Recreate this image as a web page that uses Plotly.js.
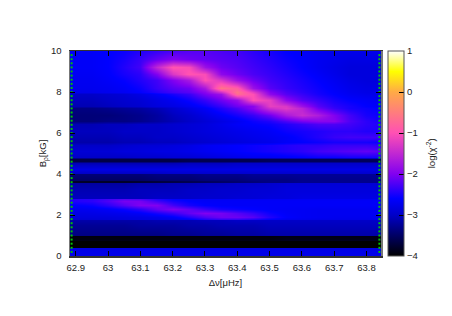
<!DOCTYPE html>
<html><head><meta charset="utf-8">
<script src="https://cdn.plot.ly/plotly-3.0.1.min.js"></script>
<style>html,body{margin:0;padding:0;background:#fff}#c{width:452px;height:316px}</style></head>
<body><div id="c"></div>
<script>
var detuning=[62.882,62.95,63,63.05,63.1,63.15,63.2,63.25,63.3,63.35,63.4,63.45,63.5,63.55,63.6,63.65,63.7,63.75,63.8,63.845];
var field=[0,0.2,0.4,0.43,0.75,0.8,1.0,1.04,1.5,1.78,1.82,1.9,2.1,2.3,2.5,2.7,2.78,2.82,3.2,3.58,3.62,3.68,3.72,4.0,4.05,4.25,4.55,4.65,4.75,4.85,5.1,5.4,5.55,5.8,6.1,6.45,6.6,6.9,7.2,7.3,7.6,7.9,8.0,8.2,8.6,8.9,9.2,9.6,10];
var chi=[
[-2.75,-2.75,-2.75,-2.75,-2.75,-2.75,-2.75,-2.75,-2.75,-2.75,-2.75,-2.75,-2.75,-2.75,-2.75,-2.75,-2.75,-2.75,-2.75,-2.75],
[-2.75,-2.75,-2.75,-2.75,-2.75,-2.75,-2.75,-2.75,-2.75,-2.75,-2.75,-2.75,-2.75,-2.75,-2.75,-2.75,-2.75,-2.75,-2.75,-2.75],
[-2.8,-2.8,-2.8,-2.8,-2.8,-2.8,-2.8,-2.8,-2.8,-2.8,-2.8,-2.8,-2.8,-2.8,-2.8,-2.8,-2.8,-2.8,-2.8,-2.8],
[-4,-4,-4,-4,-4,-4,-4,-4,-4,-4,-4,-4,-4,-4,-4,-4,-4,-4,-4,-4],
[-4,-4,-4,-4,-4,-4,-4,-4,-4,-4,-4,-4,-4,-4,-4,-4,-4,-4,-4,-4],
[-3.9,-3.9,-3.9,-3.9,-3.9,-3.9,-3.9,-3.9,-3.9,-3.9,-3.9,-3.9,-3.9,-3.85,-3.85,-3.85,-3.85,-3.85,-3.85,-3.85],
[-3.95,-3.95,-3.95,-3.95,-3.95,-3.95,-3.95,-3.95,-3.95,-3.95,-3.95,-3.95,-3.95,-3.9,-3.9,-3.9,-3.9,-3.9,-3.9,-3.9],
[-3.35,-3.35,-3.35,-3.35,-3.35,-3.35,-3.3,-3.3,-3.25,-3.25,-3.2,-3.2,-3.15,-3.15,-3.15,-3.15,-3.15,-3.15,-3.15,-3.15],
[-3.25,-3.25,-3.25,-3.25,-3.2,-3.2,-3.2,-3.15,-3.15,-3.1,-3.1,-3.1,-3.05,-3.05,-3.05,-3.05,-3.05,-3.05,-3.05,-3.05],
[-3.15,-3.15,-3.15,-3.15,-3.15,-3.1,-3.1,-3.1,-3.05,-3.05,-3.0,-3.0,-3.0,-3.0,-3.0,-3.0,-3.0,-3.0,-3.0,-3.0],
[-2.9,-2.9,-2.88,-2.85,-2.82,-2.8,-2.75,-2.65,-2.45,-2.35,-2.35,-2.45,-2.6,-2.7,-2.72,-2.75,-2.75,-2.75,-2.75,-2.75],
[-2.85,-2.85,-2.85,-2.82,-2.8,-2.75,-2.65,-2.45,-2.25,-2.1,-2.1,-2.2,-2.45,-2.62,-2.68,-2.7,-2.72,-2.72,-2.72,-2.72],
[-2.8,-2.78,-2.75,-2.72,-2.65,-2.5,-2.35,-2.15,-2.0,-2.05,-2.2,-2.35,-2.55,-2.65,-2.68,-2.7,-2.7,-2.7,-2.7,-2.7],
[-2.72,-2.7,-2.65,-2.55,-2.4,-2.15,-2.0,-2.15,-2.35,-2.5,-2.55,-2.6,-2.65,-2.67,-2.68,-2.7,-2.7,-2.7,-2.7,-2.7],
[-2.62,-2.55,-2.4,-2.2,-2.0,-2.0,-2.3,-2.5,-2.6,-2.64,-2.65,-2.65,-2.65,-2.65,-2.65,-2.65,-2.65,-2.65,-2.65,-2.65],
[-2.47,-2.4,-2.25,-2.05,-2.05,-2.3,-2.5,-2.6,-2.65,-2.65,-2.65,-2.65,-2.65,-2.65,-2.65,-2.65,-2.65,-2.65,-2.65,-2.65],
[-2.45,-2.42,-2.3,-2.2,-2.25,-2.45,-2.6,-2.65,-2.68,-2.68,-2.68,-2.68,-2.68,-2.68,-2.68,-2.68,-2.68,-2.68,-2.68,-2.68],
[-3.05,-3.05,-3.05,-3.05,-3.05,-3.0,-3.0,-3.0,-2.95,-2.95,-2.9,-2.9,-2.85,-2.85,-2.8,-2.8,-2.8,-2.8,-2.8,-2.8],
[-3.1,-3.1,-3.1,-3.1,-3.05,-3.05,-3.05,-3.0,-3.0,-2.95,-2.95,-2.9,-2.9,-2.85,-2.85,-2.85,-2.85,-2.85,-2.85,-2.85],
[-3.2,-3.2,-3.2,-3.2,-3.15,-3.15,-3.1,-3.1,-3.05,-3.05,-3.0,-3.0,-2.95,-2.9,-2.9,-2.9,-2.9,-2.9,-2.9,-2.9],
[-3.8,-3.8,-3.8,-3.8,-3.75,-3.7,-3.65,-3.6,-3.55,-3.5,-3.45,-3.4,-3.35,-3.35,-3.3,-3.3,-3.3,-3.3,-3.3,-3.3],
[-3.8,-3.8,-3.8,-3.8,-3.75,-3.7,-3.65,-3.6,-3.55,-3.5,-3.45,-3.4,-3.35,-3.35,-3.3,-3.3,-3.3,-3.3,-3.3,-3.3],
[-3.5,-3.5,-3.5,-3.5,-3.5,-3.45,-3.45,-3.45,-3.4,-3.4,-3.4,-3.35,-3.35,-3.35,-3.3,-3.3,-3.3,-3.3,-3.3,-3.3],
[-3.4,-3.4,-3.4,-3.4,-3.4,-3.35,-3.35,-3.35,-3.3,-3.3,-3.3,-3.25,-3.25,-3.25,-3.25,-3.25,-3.25,-3.25,-3.25,-3.25],
[-3.0,-3.0,-3.0,-3.0,-3.0,-3.0,-2.95,-2.95,-2.95,-2.95,-2.95,-2.95,-2.95,-2.95,-2.95,-2.95,-2.95,-2.95,-2.95,-2.95],
[-2.8,-2.8,-2.8,-2.8,-2.8,-2.8,-2.8,-2.8,-2.8,-2.8,-2.8,-2.8,-2.8,-2.8,-2.8,-2.8,-2.8,-2.8,-2.8,-2.8],
[-3.1,-3.1,-3.1,-3.1,-3.1,-3.1,-3.1,-3.05,-3.05,-3.05,-3.0,-3.0,-3.0,-3.0,-3.0,-3.0,-3.0,-3.0,-3.0,-3.0],
[-3.65,-3.65,-3.65,-3.65,-3.65,-3.65,-3.65,-3.6,-3.6,-3.6,-3.6,-3.6,-3.55,-3.55,-3.55,-3.55,-3.55,-3.55,-3.55,-3.55],
[-3.65,-3.65,-3.65,-3.65,-3.65,-3.65,-3.65,-3.6,-3.6,-3.6,-3.6,-3.6,-3.55,-3.55,-3.55,-3.55,-3.55,-3.55,-3.55,-3.55],
[-3.0,-3.0,-3.0,-3.0,-2.95,-2.95,-2.9,-2.9,-2.85,-2.8,-2.75,-2.7,-2.7,-2.65,-2.6,-2.55,-2.55,-2.5,-2.5,-2.5],
[-2.9,-2.9,-2.9,-2.85,-2.85,-2.8,-2.8,-2.75,-2.7,-2.65,-2.6,-2.55,-2.5,-2.45,-2.4,-2.3,-2.25,-2.2,-2.15,-2.2],
[-3.0,-3.0,-3.0,-2.95,-2.9,-2.9,-2.85,-2.8,-2.7,-2.65,-2.6,-2.55,-2.5,-2.45,-2.4,-2.4,-2.35,-2.35,-2.35,-2.4],
[-3.15,-3.15,-3.15,-3.1,-3.1,-3.05,-3.05,-3.0,-2.95,-2.9,-2.85,-2.8,-2.75,-2.65,-2.6,-2.55,-2.5,-2.5,-2.5,-2.55],
[-3.1,-3.1,-3.1,-3.05,-3.05,-3.0,-3.0,-2.95,-2.9,-2.85,-2.8,-2.75,-2.7,-2.65,-2.55,-2.45,-2.35,-2.3,-2.3,-2.3],
[-3.05,-3.05,-3.05,-3.0,-3.0,-3.0,-2.95,-2.9,-2.85,-2.8,-2.75,-2.7,-2.65,-2.55,-2.5,-2.45,-2.4,-2.4,-2.45,-2.45],
[-3.1,-3.1,-3.05,-3.05,-3.0,-3.0,-2.95,-2.9,-2.85,-2.75,-2.65,-2.6,-2.55,-2.45,-2.35,-2.25,-2.25,-2.3,-2.4,-2.45],
[-3.4,-3.4,-3.35,-3.35,-3.3,-3.2,-3.1,-3.0,-2.9,-2.8,-2.7,-2.55,-2.45,-2.25,-2.05,-1.95,-1.95,-2.25,-2.4,-2.5],
[-3.4,-3.4,-3.4,-3.35,-3.3,-3.2,-3.05,-2.95,-2.8,-2.65,-2.5,-2.35,-2.1,-1.7,-1.45,-1.65,-2.0,-2.3,-2.5,-2.55],
[-3.35,-3.35,-3.3,-3.25,-3.2,-3.1,-2.95,-2.8,-2.65,-2.45,-2.25,-1.95,-1.4,-1.25,-1.55,-2.1,-2.35,-2.5,-2.55,-2.6],
[-3.1,-3.1,-3.05,-3.0,-2.95,-2.85,-2.8,-2.7,-2.55,-2.35,-2.1,-1.95,-1.2,-1.3,-1.8,-2.2,-2.4,-2.5,-2.6,-2.65],
[-3.05,-3.05,-3.0,-2.95,-2.9,-2.8,-2.7,-2.55,-2.35,-2.1,-1.85,-1.0,-1.2,-1.9,-2.2,-2.35,-2.5,-2.6,-2.65,-2.7],
[-3.0,-3.0,-2.95,-2.9,-2.8,-2.65,-2.5,-2.35,-2.05,-1.8,-0.7,-1.0,-1.9,-2.2,-2.35,-2.5,-2.6,-2.7,-2.75,-2.75],
[-2.75,-2.75,-2.72,-2.68,-2.6,-2.45,-2.3,-2.2,-1.95,-1.4,-0.6,-1.2,-2.0,-2.25,-2.4,-2.52,-2.62,-2.72,-2.78,-2.78],
[-2.72,-2.72,-2.7,-2.65,-2.55,-2.35,-2.2,-2.1,-1.7,-0.6,-0.85,-1.8,-2.2,-2.35,-2.45,-2.55,-2.65,-2.75,-2.8,-2.8],
[-2.7,-2.7,-2.65,-2.58,-2.45,-2.3,-2.0,-1.7,-1.0,-1.3,-1.8,-2.1,-2.3,-2.4,-2.5,-2.6,-2.7,-2.8,-2.85,-2.85],
[-2.68,-2.68,-2.62,-2.5,-2.4,-2.0,-1.3,-0.95,-1.05,-1.9,-2.1,-2.25,-2.35,-2.45,-2.55,-2.65,-2.75,-2.85,-2.85,-2.85],
[-2.65,-2.65,-2.6,-2.45,-2.3,-1.5,-0.95,-1.05,-1.8,-2.1,-2.2,-2.3,-2.4,-2.5,-2.6,-2.7,-2.78,-2.85,-2.85,-2.85],
[-2.65,-2.65,-2.6,-2.5,-2.35,-2.15,-2.0,-2.1,-2.15,-2.2,-2.25,-2.35,-2.45,-2.55,-2.62,-2.7,-2.75,-2.8,-2.8,-2.8],
[-2.65,-2.65,-2.6,-2.55,-2.45,-2.35,-2.25,-2.2,-2.2,-2.25,-2.3,-2.4,-2.5,-2.6,-2.65,-2.7,-2.75,-2.75,-2.75,-2.75]
];
var gridY=[0.2,0.4,0.6,0.8,1,1.2,1.4,1.6,1.8,2,2.2,2.4,2.6,2.8,3,3.2,3.4,3.6,3.8,4,4.2,4.4,4.6,4.8,5,5.2,5.4,5.6,5.8,6,6.2,6.4,6.6,6.8,7,7.2,7.4,7.6,7.8,8,8.2,8.4,8.6,8.8,9,9.2,9.4,9.6,9.8];
var gridLeft=gridY.map(function(){return 62.887;});
var gridRight=gridY.map(function(){return 63.84;});
var xTicks=[62.9,63,63.1,63.2,63.3,63.4,63.5,63.6,63.7,63.8];
var xLabels=["62.9","63","63.1","63.2","63.3","63.4","63.5","63.6","63.7","63.8"];
var yTicks=[0,2,4,6,8,10];
var barTicks=[-4,-3,-2,-1,0,1];
var palette=[[0,"#000000"],[0.2,"#0000c8"],[0.28,"#0000ff"],[0.4,"#8200f0"],[0.6,"#ff50b4"],[0.8,"#ffaa46"],[0.9,"#ffff00"],[1,"#ffffff"]];
var font={family:"Liberation Sans, Arial, sans-serif",size:9.5,color:"#222"};
var heat={type:"heatmap",x:detuning,y:field,z:chi,zmin:-4,zmax:1,zsmooth:"best",colorscale:palette,
 colorbar:{x:1.0225,xanchor:"left",xref:"paper",y:0,yanchor:"bottom",yref:"paper",len:1,lenmode:"fraction",thickness:16,thicknessmode:"pixels",xpad:0,ypad:0,
  tickvals:barTicks,ticks:"inside",ticklen:5,tickwidth:1,tickcolor:"#000",outlinecolor:"#555",outlinewidth:1,tickfont:font,borderwidth:0}};
var dotsL={type:"scatter",mode:"markers",x:gridLeft,y:gridY,marker:{symbol:"square",size:2,color:"#00c800"},hoverinfo:"skip",showlegend:false};
var dotsR={type:"scatter",mode:"markers",x:gridRight,y:gridY,marker:{symbol:"square",size:2,color:"#00c800"},hoverinfo:"skip",showlegend:false};
var layout={width:452,height:316,margin:{l:70,r:71,t:51,b:60},paper_bgcolor:"#fff",plot_bgcolor:"#fff",font:font,showlegend:false,
 xaxis:{range:[62.882,63.845],tickvals:xTicks,ticktext:xLabels,ticks:"inside",ticklen:5,tickwidth:1,tickcolor:"#000",showgrid:false,zeroline:false,showline:true,linecolor:"#333",linewidth:1.5,mirror:"ticks",ticklabelstandoff:2,tickfont:font,title:{text:"Δν[μHz]",font:font,standoff:7},layer:"above traces"},
 yaxis:{range:[0,10],tickvals:yTicks,ticks:"inside",ticklen:5,tickwidth:1,tickcolor:"#000",showgrid:false,zeroline:false,showline:true,linecolor:"#777",linewidth:1.5,mirror:"ticks",ticklabelstandoff:5,tickfont:font,title:{text:"B<sub>ρ</sub>[kG]",font:font,standoff:2}},
 annotations:[{text:"log(χ<sup>-2</sup>)",xref:"paper",yref:"paper",x:1.16,y:0.5,xanchor:"center",yanchor:"middle",textangle:-90,showarrow:false,font:font}]};
Plotly.newPlot("c",[heat,dotsL,dotsR],layout,{displayModeBar:false,staticPlot:true});
</script></body></html>
